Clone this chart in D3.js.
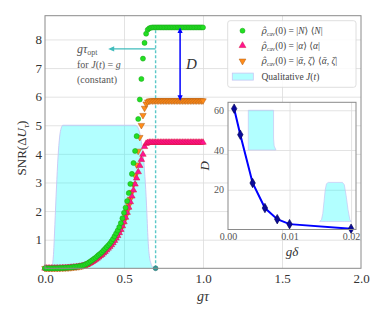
<!DOCTYPE html>
<html>
<head>
<meta charset="utf-8">
<script src="https://cdn.jsdelivr.net/npm/d3@7"></script>
<style>
body{margin:0;background:#fff}
text{font-family:"Liberation Serif","DejaVu Serif",serif}
</style>
</head>
<body>
<script>
// sampling grid g*tau (step 0.01)
var gtau = d3.range(0, 101).map(function(i){ return i/100; });

// SNR, cavity in Fock state |N><N|
var snrFock = [
  0,0,0,0,0,0.001,0.002,0.003,0.004,0.006,
  0.008,0.011,0.014,0.017,0.021,0.025,0.03,0.036,0.043,0.05,
  0.058,0.066,0.075,0.085,0.1,0.12,0.145,0.175,0.21,0.25,
  0.29,0.33,0.37,0.42,0.47,0.51,0.56,0.62,0.68,0.74,
  0.8,0.86,0.94,1.02,1.12,1.22,1.32,1.44,1.58,1.75,
  1.94,2.12,2.35,2.63,2.95,3.3,3.68,4.1,4.62,5.22,
  5.9,6.62,7.33,7.88,8.2,8.34,8.39,8.41,8.42,8.42,
  8.42,8.42,8.42,8.42,8.42,8.42,8.42,8.42,8.42,8.42,
  8.42,8.42,8.42,8.42,8.42,8.42,8.42,8.42,8.42,8.42,
  8.42,8.42,8.42,8.42,8.42,8.42,8.42,8.42,8.42,8.42,8.42
];
// coherent state |a><a|
var snrCoherent = [
  0,0,0,0,0,0,0.001,0.002,0.003,0.005,
  0.007,0.009,0.011,0.014,0.017,0.021,0.025,0.03,0.036,0.042,
  0.049,0.056,0.064,0.073,0.085,0.1,0.12,0.14,0.17,0.2,
  0.235,0.27,0.31,0.35,0.39,0.44,0.48,0.53,0.58,0.64,
  0.7,0.76,0.82,0.89,0.97,1.05,1.14,1.24,1.35,1.48,
  1.62,1.78,1.95,2.13,2.32,2.52,2.73,2.94,3.15,3.37,
  3.59,3.8,3.98,4.25,4.36,4.39,4.4,4.4,4.4,4.4,
  4.4,4.4,4.4,4.4,4.4,4.4,4.4,4.4,4.4,4.4,
  4.4,4.4,4.4,4.4,4.4,4.4,4.4,4.4,4.4,4.4,
  4.4,4.4,4.4,4.4,4.4,4.4,4.4,4.4,4.4,4.4,4.4
];
// squeezed coherent state
var snrSqueezed = [
  0,0,0,0,0,0,0.001,0.002,0.003,0.005,
  0.008,0.01,0.012,0.015,0.018,0.022,0.026,0.031,0.037,0.044,
  0.051,0.058,0.066,0.076,0.088,0.104,0.124,0.145,0.175,0.21,
  0.245,0.28,0.32,0.36,0.4,0.45,0.5,0.55,0.6,0.66,
  0.72,0.78,0.85,0.92,1.0,1.08,1.17,1.27,1.38,1.51,
  1.66,1.82,2.0,2.2,2.42,2.66,2.93,3.24,3.62,4.1,
  4.58,5.0,5.35,5.6,5.75,5.82,5.85,5.86,5.86,5.86,
  5.86,5.86,5.86,5.86,5.86,5.86,5.86,5.86,5.86,5.86,
  5.86,5.86,5.86,5.86,5.86,5.86,5.86,5.86,5.86,5.86,
  5.86,5.86,5.86,5.86,5.86,5.86,5.86,5.86,5.86,5.86,5.86
];

// qualitative J(t) outline
var jT = [0.025,0.035,0.045,0.05,0.055,0.06,0.065,0.07,0.075,0.08,0.085,0.09,0.095,0.1,0.105,0.112,
          0.57,0.58,0.59,0.6,0.61,0.62,0.63,0.64,0.645,0.65,0.655,0.66,0.67,0.68,0.69];
var jVal = [0,0.03,0.12,0.25,0.6,1.2,1.85,2.5,3.1,3.65,4.1,4.45,4.7,4.85,4.94,5,
            5,4.98,4.9,4.72,4.42,4.05,3.4,2.5,1.9,1.25,0.75,0.45,0.18,0.05,0];

var tauOpt = 0.7;
var arrowEnd = 0.40, arrowLevel = 7.67;
var dArrowX = 0.855;

var legendLabels = [["|","N","⟩ ⟨","N","|"], ["|","α","⟩ ⟨","α","|"], ["|","ᾱ",", ","ζ","⟩ ⟨","ᾱ",", ","ζ","|"]];

// inset: D vs g*delta
var insetDelta = [0.001,0.002,0.004,0.006,0.008,0.01,0.02];
var insetD = [60.8,47.7,23.4,10.8,5.2,2.7,0.4];
var shortPulseT = [0.0033,0.0033,0.0074,0.0074,0.0075,0.0078];
var shortPulseV = [40,60,60,46,42,40];
var longPulseT = [0.0149,0.0152,0.0154,0.0156,0.0158,0.016,0.0163,0.0186,0.0189,0.0192,0.0195,0.0198,0.02];
var longPulseV = [4,5,8,14,20,23,23.7,23.7,22.5,17,10,5,4];

var svg = d3.select("body").append("svg").attr("width",381).attr("height",317);

var m = {left:45, right:361, top:15.7, bottom:268.3};
var x = d3.scaleLinear().domain([0,2]).range([m.left,m.right]);
var y = d3.scaleLinear().domain([0,8.83]).range([m.bottom,m.top]);

// grid
svg.append("g").attr("transform","translate(0,"+m.bottom+")")
  .call(d3.axisBottom(x).tickValues([0.5,1,1.5]).tickSize(-(m.bottom-m.top)).tickFormat(""))
  .call(function(g){ g.select(".domain").remove(); })
  .selectAll("line").attr("stroke","#dcdcdc").attr("stroke-width",0.8);
svg.append("g").attr("transform","translate("+m.left+",0)")
  .call(d3.axisLeft(y).tickValues([1,2,3,4,5,6,7,8]).tickSize(-(m.right-m.left)).tickFormat(""))
  .call(function(g){ g.select(".domain").remove(); })
  .selectAll("line").attr("stroke","#dcdcdc").attr("stroke-width",0.8);

// J(t)
var jPts = jT.map(function(t,i){ return [t, jVal[i]]; });
svg.append("path").datum(jPts)
  .attr("d", d3.area().x(function(d){return x(d[0]);}).y0(y(0)).y1(function(d){return y(d[1]);}).curve(d3.curveMonotoneX))
  .attr("fill","#00ffff").attr("fill-opacity",0.3);
svg.append("path").datum(jPts)
  .attr("d", d3.line().x(function(d){return x(d[0]);}).y(function(d){return y(d[1]);}).curve(d3.curveMonotoneX))
  .attr("fill","none").attr("stroke","#c6c6f4").attr("stroke-width",0.9);

// tau_opt dashed line
svg.append("line").attr("x1",x(tauOpt)).attr("x2",x(tauOpt)).attr("y1",y(0)).attr("y2",y(snrFock[70]))
  .attr("stroke","#5cc8c8").attr("stroke-width",1.4).attr("stroke-dasharray","3,2");

// markers
function drawSeries(vals, type, fill, stroke){
  var down = type === "down";
  svg.append("g").selectAll("path").data(vals).enter().append("path")
    .attr("transform", function(d,i){
      return "translate("+x(gtau[i])+","+y(d)+")"+(down ? "rotate(180)" : "");
    })
    .attr("d", d3.symbol().type(down ? d3.symbolTriangle : type).size(type===d3.symbolCircle?20:18))
    .attr("fill",fill).attr("stroke",stroke).attr("stroke-width",0.5);
}
drawSeries(snrSqueezed, "down", "#ff8c1a", "#b05a10");
drawSeries(snrCoherent, d3.symbolTriangle, "#ff1493", "#d8103a");
drawSeries(snrFock, d3.symbolCircle, "#22e022", "#18a018");

// dot at tau_opt
svg.append("circle").attr("cx",x(tauOpt)).attr("cy",y(0)).attr("r",2.4)
  .attr("fill","#2e9a9a").attr("stroke","#1c6a6a").attr("stroke-width",0.6);

// frame
svg.append("rect").attr("x",m.left).attr("y",m.top).attr("width",m.right-m.left).attr("height",m.bottom-m.top)
  .attr("fill","none").attr("stroke","#8a8a8a").attr("stroke-width",1);

// tick labels
svg.append("g").attr("transform","translate(0,"+m.bottom+")")
  .call(d3.axisBottom(x).tickValues([0,0.5,1,1.5,2]).tickSize(0).tickPadding(5).tickFormat(d3.format(".1f")))
  .call(function(g){ g.select(".domain").remove(); })
  .selectAll("text").attr("font-size",13).attr("fill","#333").attr("font-family","Liberation Serif");
svg.append("g").attr("transform","translate("+m.left+",0)")
  .call(d3.axisLeft(y).tickValues([1,2,3,4,5,6,7,8]).tickSize(0).tickPadding(3).tickFormat(d3.format("d")))
  .call(function(g){ g.select(".domain").remove(); })
  .selectAll("text").attr("font-size",13).attr("fill","#333").attr("font-family","Liberation Serif");

// axis labels
var xl = svg.append("text").attr("x",(m.left+m.right)/2).attr("y",301).attr("text-anchor","middle")
  .attr("font-size",14).attr("fill","#333").attr("font-style","italic");
xl.append("tspan").text("gτ");
var yl = svg.append("text").attr("transform","translate(26,"+((m.top+m.bottom)/2+6)+") rotate(-90)")
  .attr("text-anchor","middle").attr("font-size",13).attr("fill","#333");
yl.append("tspan").text("SNR(Δ");
yl.append("tspan").attr("font-style","italic").text("U");
yl.append("tspan").attr("font-style","italic").attr("font-size",9).attr("dy",3).text("τ");
yl.append("tspan").attr("dy",-3).text(")");

// g tau_opt arrow
svg.append("line").attr("x1",x(tauOpt)).attr("x2",x(arrowEnd)+4).attr("y1",y(arrowLevel)).attr("y2",y(arrowLevel))
  .attr("stroke","#40bcbc").attr("stroke-width",1.3);
svg.append("path")
  .attr("d","M"+x(arrowEnd)+","+y(arrowLevel)+"l6,-2.6v5.2z").attr("fill","#40bcbc");
var t1 = svg.append("text").attr("x",77).attr("y",53).attr("font-size",12).attr("fill","#555");
t1.append("tspan").attr("font-style","italic").text("gτ");
t1.append("tspan").attr("font-size",8).attr("dy",2).text("opt");
var t2 = svg.append("text").attr("x",77).attr("y",68).attr("font-size",10).attr("fill","#555");
t2.append("tspan").text("for ");
t2.append("tspan").attr("font-style","italic").text("J");
t2.append("tspan").text("(");
t2.append("tspan").attr("font-style","italic").text("t");
t2.append("tspan").text(") = ");
t2.append("tspan").attr("font-style","italic").text("g");
svg.append("text").attr("x",77).attr("y",83).attr("font-size",10).attr("fill","#555").text("(constant)");

// D arrow
var dTop = y(snrFock[100]), dBot = y(snrSqueezed[100]), dx = x(dArrowX);
svg.append("line").attr("x1",dx).attr("x2",dx).attr("y1",dTop+4).attr("y2",dBot-4)
  .attr("stroke","#0000ff").attr("stroke-width",1.5);
svg.append("path").attr("d","M"+dx+","+dTop+"l-2.6,5.5h5.2z").attr("fill","#0000ff");
svg.append("path").attr("d","M"+dx+","+dBot+"l-2.6,-5.5h5.2z").attr("fill","#0000ff");
svg.append("text").attr("x",dx+6).attr("y",(dTop+dBot)/2+5).attr("font-size",15)
  .attr("font-style","italic").attr("fill","#333").text("D");

// legend
var lg = svg.append("g");
lg.append("rect").attr("x",227.7).attr("y",20.7).attr("width",128.3).attr("height",66.6).attr("rx",2.5)
  .attr("fill","#fff").attr("fill-opacity",0.85).attr("stroke","#d6d6d6").attr("stroke-width",0.8);
var rowY = [30.7,45.6,61,76.6];
lg.append("circle").attr("cx",242.5).attr("cy",rowY[0]).attr("r",2.5).attr("fill","#22e022").attr("stroke","#18a018").attr("stroke-width",0.5);
lg.append("path").attr("transform","translate(242.5,"+rowY[1]+")").attr("d",d3.symbol().type(d3.symbolTriangle).size(20)())
  .attr("fill","#ff1493").attr("stroke","#d8103a").attr("stroke-width",0.5);
lg.append("path").attr("transform","translate(242.5,"+rowY[2]+") rotate(180)").attr("d",d3.symbol().type(d3.symbolTriangle).size(20)())
  .attr("fill","#ff8c1a").attr("stroke","#b05a10").attr("stroke-width",0.5);
lg.append("rect").attr("x",232.3).attr("y",rowY[3]-3.5).attr("width",21).attr("height",7)
  .attr("fill","#00ffff").attr("fill-opacity",0.3).attr("stroke","#c6c6f4").attr("stroke-width",0.8);
legendLabels.forEach(function(parts,k){
  var t = lg.append("text").attr("x",261.5).attr("y",rowY[k]+3.3).attr("font-size",9.5).attr("fill","#444");
  t.append("tspan").attr("font-style","italic").attr("font-family","DejaVu Serif").attr("font-size",9).text("ρ\u0302");
  t.append("tspan").attr("font-size",6).attr("dy",2).text("cav");
  t.append("tspan").attr("dy",-2).text("(0) = ");
  parts.forEach(function(p,j){
    t.append("tspan").attr("font-style", (j%2===1) ? "italic" : "normal").text(p);
  });
});
var lq = lg.append("text").attr("x",261.5).attr("y",rowY[3]+3.3).attr("font-size",9.5).attr("fill","#444");
lq.append("tspan").text("Qualitative ");
lq.append("tspan").attr("font-style","italic").text("J");
lq.append("tspan").text("(");
lq.append("tspan").attr("font-style","italic").text("t");
lq.append("tspan").text(")");

// ---------- inset ----------
var im = {left:228, right:356, top:102.3, bottom:229.5};
var ix = d3.scaleLinear().domain([0,0.0208]).range([im.left,im.right]);
var iy = d3.scaleLinear().domain([0,64]).range([im.bottom,im.top]);
svg.append("rect").attr("x",im.left).attr("y",im.top).attr("width",im.right-im.left).attr("height",im.bottom-im.top)
  .attr("fill","#fff");
svg.append("g").attr("transform","translate(0,"+im.bottom+")")
  .call(d3.axisBottom(ix).tickValues([0.01,0.02]).tickSize(-(im.bottom-im.top)).tickFormat(""))
  .call(function(g){ g.select(".domain").remove(); })
  .selectAll("line").attr("stroke","#dcdcdc").attr("stroke-width",0.8);
svg.append("g").attr("transform","translate("+im.left+",0)")
  .call(d3.axisLeft(iy).tickValues([20,40,60]).tickSize(-(im.right-im.left)).tickFormat(""))
  .call(function(g){ g.select(".domain").remove(); })
  .selectAll("line").attr("stroke","#dcdcdc").attr("stroke-width",0.8);

function pulse(ts, vs, base){
  var pts = ts.map(function(t,i){ return [t, vs[i]]; });
  svg.append("path").datum(pts)
    .attr("d", d3.area().x(function(d){return ix(d[0]);}).y0(iy(base)).y1(function(d){return iy(d[1]);}))
    .attr("fill","#00ffff").attr("fill-opacity",0.3).attr("stroke","#c6c6f4").attr("stroke-width",0.7);
}
pulse(shortPulseT, shortPulseV, 40);
pulse(longPulseT, longPulseV, 4);

var ipts = insetDelta.map(function(d,i){ return [d, insetD[i]]; });
svg.append("path").datum(ipts)
  .attr("d", d3.line().x(function(d){return ix(d[0]);}).y(function(d){return iy(d[1]);}))
  .attr("fill","none").attr("stroke","#0000ff").attr("stroke-width",2);
svg.append("g").selectAll("path").data(ipts).enter().append("path")
  .attr("transform",function(d){ return "translate("+ix(d[0])+","+iy(d[1])+")"; })
  .attr("d", d3.symbol().type(d3.symbolDiamond).size(26))
  .attr("fill","#0a0a9a").attr("stroke","#000050").attr("stroke-width",0.6);

svg.append("rect").attr("x",im.left).attr("y",im.top).attr("width",im.right-im.left).attr("height",im.bottom-im.top)
  .attr("fill","none").attr("stroke","#8a8a8a").attr("stroke-width",1);

svg.append("g").attr("transform","translate(0,"+im.bottom+")")
  .call(d3.axisBottom(ix).tickValues([0,0.01,0.02]).tickSize(0).tickPadding(3).tickFormat(d3.format(".2f")))
  .call(function(g){ g.select(".domain").remove(); })
  .selectAll("text").attr("font-size",10).attr("fill","#555").attr("font-family","Liberation Serif");
svg.append("g").attr("transform","translate("+im.left+",0)")
  .call(d3.axisLeft(iy).tickValues([20,40,60]).tickSize(0).tickPadding(4).tickFormat(d3.format("d")))
  .call(function(g){ g.select(".domain").remove(); })
  .selectAll("text").attr("font-size",10).attr("fill","#555").attr("font-family","Liberation Serif");

svg.append("text").attr("x",(im.left+im.right)/2).attr("y",256).attr("text-anchor","middle")
  .attr("font-size",13).attr("font-style","italic").attr("fill","#333").text("gδ");
svg.append("text").attr("transform","translate(209,"+((im.top+im.bottom)/2)+") rotate(-90)")
  .attr("text-anchor","middle").attr("font-size",13).attr("font-style","italic").attr("fill","#333").text("D");
</script>
</body>
</html>
